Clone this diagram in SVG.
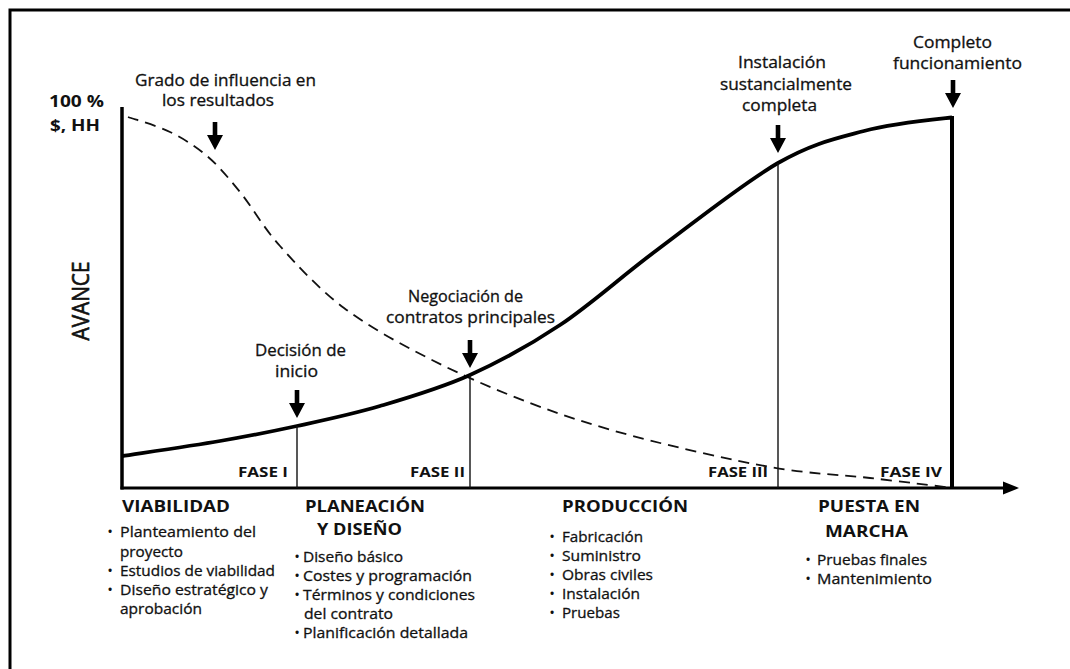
<svg xmlns="http://www.w3.org/2000/svg" xmlns:xlink="http://www.w3.org/1999/xlink" width="1070" height="669" viewBox="0 0 1070 669">
<style>
text{font-family:"Open Sans","Liberation Sans",sans-serif;fill:#111}
.lbl{font-size:15.5px;text-anchor:middle;stroke:#111;stroke-width:0.3px}
.body{font-size:15px;stroke:#111;stroke-width:0.3px}
.bul{font-size:15px;text-anchor:middle}
.hd{font-size:16.5px;font-weight:bold}
.fase{font-size:14px;font-weight:bold}
.ax{font-size:16px;font-weight:bold}
.thin{stroke:#111;stroke-width:1.4;fill:none}
</style>
<defs>
<path id="dn" d="M-2.3,0 H2.3 V13 H8 L0,28 L-8,13 H-2.3 Z" fill="#000"/>
</defs>
<rect width="1070" height="669" fill="#fff"/>
<path d="M10,669 V10 H1070" fill="none" stroke="#000" stroke-width="3"/>

<g id="connectors">
  <line x1="122" y1="107" x2="122" y2="489.5" stroke="#000" stroke-width="3.5"/>
  <line x1="120.5" y1="488" x2="1006" y2="488" stroke="#000" stroke-width="3"/>
  <path d="M1019,488 L1003,481.5 L1003,494.5 Z" fill="#000"/>
  <path d="M128,117 C135,119.5 156.8,125.5 170,132 C183.2,138.5 195.3,146 207,156 C218.7,166 227.8,177 240,192 C252.2,207 262.7,226.7 280,246 C297.3,265.3 319,289.2 344,308 C369,326.8 399,343.2 430,359 C461,374.8 496.2,390.2 530,403 C563.8,415.8 593,425.3 633,436 C673,446.7 730.5,460 770,467 C809.5,474 839.5,474.5 870,478 C900.5,481.5 939.2,486.3 953,488" fill="none" stroke="#111" stroke-width="1.8" stroke-dasharray="11,7"/>
  <path d="M122,456 C138.3,453.5 190.8,446 220,441 C249.2,436 270.3,431.8 297,426 C323.7,420.2 351.2,414.5 380,406 C408.8,397.5 440,388.5 470,375 C500,361.5 528.8,345.8 560,325 C591.2,304.2 620.7,277 657,250 C693.3,223 743.5,182.8 778,163 C812.5,143.2 835.3,138.7 864,131 C892.7,123.3 935.7,119.3 952,117.5" fill="none" stroke="#000" stroke-width="3.8"/>
  <line x1="952" y1="116" x2="952" y2="489" stroke="#000" stroke-width="4"/>
  <line class="thin" x1="297" y1="426" x2="297" y2="488"/>
  <line class="thin" x1="470" y1="375" x2="470" y2="488"/>
  <line class="thin" x1="778" y1="163" x2="778" y2="488"/>
  <use xlink:href="#dn" href="#dn" x="215" y="122"/>
  <use xlink:href="#dn" href="#dn" x="297" y="390"/>
  <use xlink:href="#dn" href="#dn" x="470" y="340"/>
  <use xlink:href="#dn" href="#dn" x="778" y="125"/>
  <use xlink:href="#dn" href="#dn" x="953" y="80"/>
</g>

<g id="axis-labels">
  <text class="ax" x="49" y="107" textLength="55" lengthAdjust="spacingAndGlyphs">100 %</text>
  <text class="ax" x="50" y="131" textLength="50" lengthAdjust="spacingAndGlyphs">$, HH</text>
  <text transform="translate(89,301) rotate(-90)" style="font-size:23px;text-anchor:middle;stroke:#111;stroke-width:0.6px" textLength="79" lengthAdjust="spacingAndGlyphs">AVANCE</text>
</g>

<g id="grado">
  <text class="lbl" x="225.5" y="86" textLength="181" lengthAdjust="spacingAndGlyphs">Grado de influencia en</text>
  <text class="lbl" x="218" y="106" textLength="112" lengthAdjust="spacingAndGlyphs">los resultados</text>
</g>
<g id="decision">
  <text class="lbl" x="300.5" y="356" textLength="91" lengthAdjust="spacingAndGlyphs">Decisión de</text>
  <text class="lbl" x="296.5" y="377" textLength="43" lengthAdjust="spacingAndGlyphs">inicio</text>
</g>
<g id="negociacion">
  <text class="lbl" x="465.5" y="302" textLength="115" lengthAdjust="spacingAndGlyphs">Negociación de</text>
  <text class="lbl" x="470.5" y="323" textLength="169" lengthAdjust="spacingAndGlyphs">contratos principales</text>
</g>
<g id="instalacion">
  <text class="lbl" x="782" y="68" textLength="88" lengthAdjust="spacingAndGlyphs">Instalación</text>
  <text class="lbl" x="786" y="90" textLength="132" lengthAdjust="spacingAndGlyphs">sustancialmente</text>
  <text class="lbl" x="779.5" y="111" textLength="75" lengthAdjust="spacingAndGlyphs">completa</text>
</g>
<g id="completo">
  <text class="lbl" x="952.5" y="48" textLength="79" lengthAdjust="spacingAndGlyphs">Completo</text>
  <text class="lbl" x="957.5" y="69" textLength="129" lengthAdjust="spacingAndGlyphs">funcionamiento</text>
</g>

<g id="fases">
  <text class="fase" x="238" y="477" textLength="50" lengthAdjust="spacingAndGlyphs">FASE I</text>
  <text class="fase" x="410" y="477" textLength="55" lengthAdjust="spacingAndGlyphs">FASE II</text>
  <text class="fase" x="708" y="477" textLength="60" lengthAdjust="spacingAndGlyphs">FASE III</text>
  <text class="fase" x="880" y="477" textLength="62" lengthAdjust="spacingAndGlyphs">FASE IV</text>
</g>

<g id="viabilidad">
  <text class="hd" x="122" y="512" textLength="108" lengthAdjust="spacingAndGlyphs">VIABILIDAD</text>
  <text class="bul" x="110" y="537">•</text>
  <text class="body" x="120" y="537" textLength="136" lengthAdjust="spacingAndGlyphs">Planteamiento del</text>
  <text class="body" x="120" y="557" textLength="63" lengthAdjust="spacingAndGlyphs">proyecto</text>
  <text class="bul" x="110" y="576">•</text>
  <text class="body" x="120" y="576" textLength="155" lengthAdjust="spacingAndGlyphs">Estudios de viabilidad</text>
  <text class="bul" x="110" y="595">•</text>
  <text class="body" x="120" y="595" textLength="148" lengthAdjust="spacingAndGlyphs">Diseño estratégico y</text>
  <text class="body" x="120" y="614" textLength="82" lengthAdjust="spacingAndGlyphs">aprobación</text>
</g>
<g id="planeacion">
  <text class="hd" x="305" y="512" textLength="120" lengthAdjust="spacingAndGlyphs">PLANEACIÓN</text>
  <text class="hd" x="317" y="535" textLength="85" lengthAdjust="spacingAndGlyphs">Y DISEÑO</text>
  <text class="bul" x="297" y="562">•</text>
  <text class="body" x="303" y="562" textLength="100" lengthAdjust="spacingAndGlyphs">Diseño básico</text>
  <text class="bul" x="297" y="581">•</text>
  <text class="body" x="303" y="581" textLength="169" lengthAdjust="spacingAndGlyphs">Costes y programación</text>
  <text class="bul" x="297" y="600">•</text>
  <text class="body" x="303" y="600" textLength="172" lengthAdjust="spacingAndGlyphs">Términos y condiciones</text>
  <text class="body" x="304" y="619" textLength="89" lengthAdjust="spacingAndGlyphs">del contrato</text>
  <text class="bul" x="297" y="638">•</text>
  <text class="body" x="303" y="638" textLength="165" lengthAdjust="spacingAndGlyphs">Planificación detallada</text>
</g>
<g id="produccion">
  <text class="hd" x="562" y="512" textLength="126" lengthAdjust="spacingAndGlyphs">PRODUCCIÓN</text>
  <text class="bul" x="552" y="542">•</text>
  <text class="body" x="562" y="542" textLength="81" lengthAdjust="spacingAndGlyphs">Fabricación</text>
  <text class="bul" x="552" y="561">•</text>
  <text class="body" x="562" y="561" textLength="79" lengthAdjust="spacingAndGlyphs">Suministro</text>
  <text class="bul" x="552" y="580">•</text>
  <text class="body" x="562" y="580" textLength="91" lengthAdjust="spacingAndGlyphs">Obras civiles</text>
  <text class="bul" x="552" y="599">•</text>
  <text class="body" x="562" y="599" textLength="78" lengthAdjust="spacingAndGlyphs">Instalación</text>
  <text class="bul" x="552" y="618">•</text>
  <text class="body" x="562" y="618" textLength="58" lengthAdjust="spacingAndGlyphs">Pruebas</text>
</g>
<g id="puesta">
  <text class="hd" x="818" y="512" textLength="102" lengthAdjust="spacingAndGlyphs">PUESTA EN</text>
  <text class="hd" x="825" y="537" textLength="83" lengthAdjust="spacingAndGlyphs">MARCHA</text>
  <text class="bul" x="808" y="565">•</text>
  <text class="body" x="817" y="565" textLength="110" lengthAdjust="spacingAndGlyphs">Pruebas finales</text>
  <text class="bul" x="808" y="584">•</text>
  <text class="body" x="817" y="584" textLength="115" lengthAdjust="spacingAndGlyphs">Mantenimiento</text>
</g>
</svg>
